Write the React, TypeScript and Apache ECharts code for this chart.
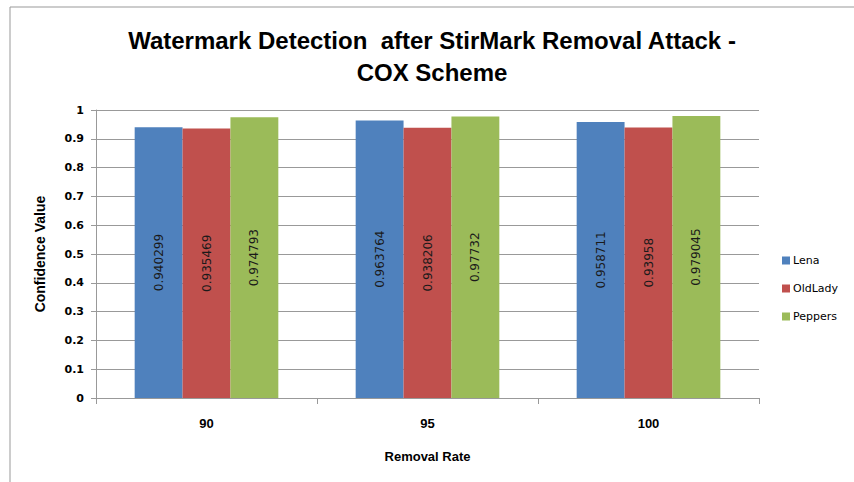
import React, { useEffect, useRef } from "react";
import * as echarts from "echarts";

const categories = ["90", "95", "100"];
const lena = [0.940299, 0.963764, 0.958711];
const oldLady = [0.935469, 0.938206, 0.93958];
const peppers = [0.974793, 0.97732, 0.979045];
const seriesNames = ["Lena", "OldLady", "Peppers"];
const colors = ["#4F81BD", "#C0504D", "#9BBB59"];

export default function App() {
  const ref = useRef<HTMLDivElement>(null);
  useEffect(() => {
    const chart = echarts.init(ref.current!, null, { renderer: "svg" });
    const mk = (name: string, data: number[], color: string) => ({
      name,
      type: "bar",
      data,
      barGap: "0%",
      barCategoryGap: "35%",
      itemStyle: { color },
      label: {
        show: true,
        position: "inside",
        rotate: 90,
        formatter: (p: any) => String(p.value),
        fontFamily: "DejaVu Sans",
        fontSize: 12,
        color: "#1a1a1a",
      },
    });
    chart.setOption({
      animation: false,
      backgroundColor: "#fff",
      title: {
        text: "Watermark Detection  after StirMark Removal Attack -\nCOX Scheme",
        left: 427,
        textAlign: "center",
        top: 19,
        textStyle: {
          fontFamily: "Liberation Sans",
          fontWeight: "bold",
          fontSize: 24,
          lineHeight: 32,
          color: "#000",
        },
      },
      legend: {
        orient: "vertical",
        left: 777,
        top: 250,
        itemWidth: 8,
        itemHeight: 8,
        itemGap: 17,
        icon: "rect",
        textStyle: { fontFamily: "DejaVu Sans", fontSize: 11, color: "#000", padding: [0, 0, 0, -2] },
        data: seriesNames,
      },
      grid: { left: 96, right: 95, top: 110, bottom: 84 },
      xAxis: {
        type: "category",
        data: categories,
        name: "Removal Rate",
        nameLocation: "middle",
        nameGap: 52,
        nameTextStyle: { fontFamily: "Liberation Sans", fontWeight: "bold", fontSize: 13, color: "#000" },
        axisLine: { lineStyle: { color: "#999" } },
        axisTick: { show: true, length: 6, lineStyle: { color: "#999" } },
        axisLabel: { margin: 19, fontFamily: "Liberation Sans", fontWeight: "bold", fontSize: 13, color: "#000" },
      },
      yAxis: {
        type: "value",
        min: 0,
        max: 1,
        interval: 0.1,
        name: "Confidence Value",
        nameLocation: "middle",
        nameGap: 49,
        nameTextStyle: { fontFamily: "Liberation Sans", fontWeight: "bold", fontSize: 14, color: "#000" },
        axisLine: { show: true, lineStyle: { color: "#999" } },
        axisTick: { show: true, length: 5, lineStyle: { color: "#999" } },
        axisLabel: {
          margin: 12,
          fontFamily: "DejaVu Sans",
          fontWeight: "bold",
          fontSize: 11,
          color: "#000",
          formatter: (v: number) => String(Math.round(v * 10) / 10),
        },
        splitLine: { lineStyle: { color: "#999" } },
      },
      graphic: [
        {
          type: "rect",
          shape: { x: 10, y: 7, width: 900, height: 520 },
          style: { fill: "none", stroke: "#999", lineWidth: 1 },
          silent: true,
        },
      ],
      series: [mk(seriesNames[0], lena, colors[0]), mk(seriesNames[1], oldLady, colors[1]), mk(seriesNames[2], peppers, colors[2])],
    });
    return () => chart.dispose();
  }, []);
  return <div ref={ref} style={{ width: 854, height: 482, position: "absolute", left: 0, top: 0 }} />;
}
